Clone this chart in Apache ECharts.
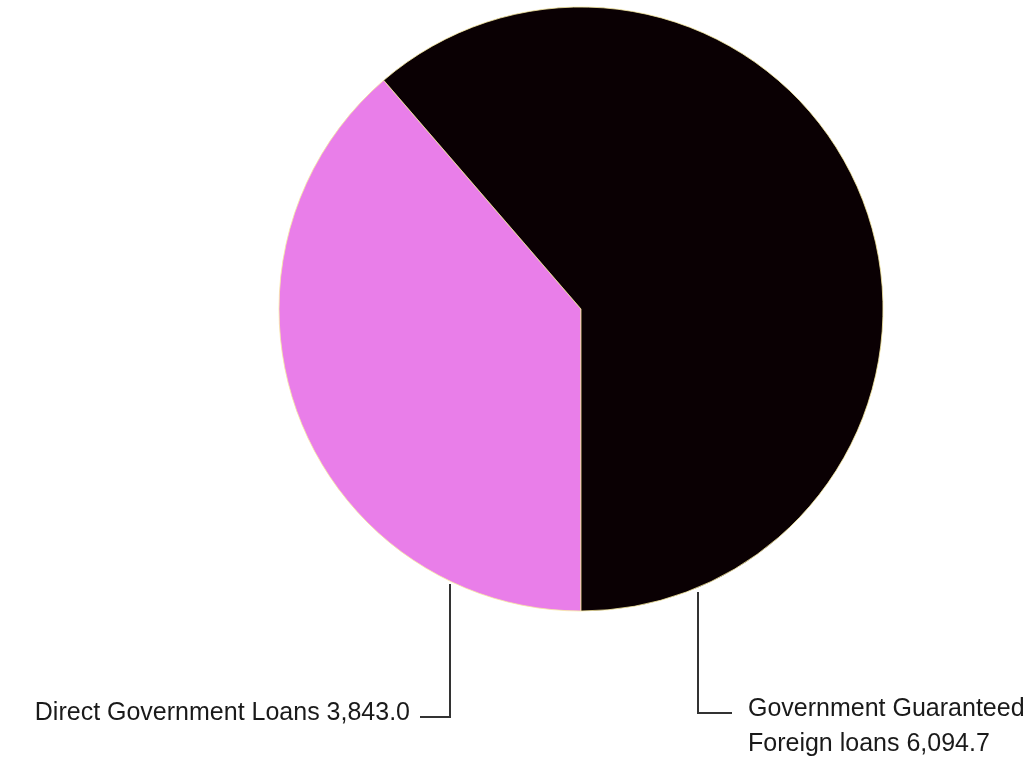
<!DOCTYPE html>
<html>
<head>
<meta charset="utf-8">
<script src="https://cdn.jsdelivr.net/npm/echarts@6/dist/echarts.min.js"></script>
<style>
html,body{margin:0;padding:0;background:#fff;}
#chart{width:1028px;height:759px;}
</style>
</head>
<body>
<div id="chart"></div>
<script>
const categories = ['Direct Government Loans', 'Government Guaranteed\nForeign loans'];
const values = [3843.0, 6094.7];
const valueLabels = ['3,843.0', '6,094.7'];
const colors = ['#e97ee9', '#0a0003'];

const chart = echarts.init(document.getElementById('chart'));
const data = categories.map((c, i) => ({
  name: c,
  value: values[i],
  itemStyle: { color: colors[i] }
}));

chart.setOption({
  backgroundColor: '#ffffff',
  animation: false,
  series: [{
    type: 'pie',
    center: [581, 309],
    radius: [0, 302],
    startAngle: 270,
    clockwise: true,
    data: data,
    itemStyle: { borderColor: '#f6e9a0', borderWidth: 0.8 },
    label: {
      show: true,
      position: 'outside',
      overflow: 'none',
      fontFamily: 'Liberation Sans, Arial, sans-serif',
      fontSize: 25,
      color: '#1a1a1a',
      lineHeight: 35,
      formatter: p => p.name + ' ' + valueLabels[p.dataIndex]
    },
    labelLine: { show: true, lineStyle: { color: '#333', width: 2 } },
    labelLayout: function (p) {
      if (p.dataIndex === 0) {
        return {
          x: 410, y: 713, align: 'right', verticalAlign: 'middle',
          labelLinePoints: [[450, 584], [450, 717], [420, 717]]
        };
      }
      return {
        x: 748, y: 727, align: 'left', verticalAlign: 'middle',
        labelLinePoints: [[698, 592], [698, 713], [732, 713]]
      };
    }
  }]
});
</script>
</body>
</html>
